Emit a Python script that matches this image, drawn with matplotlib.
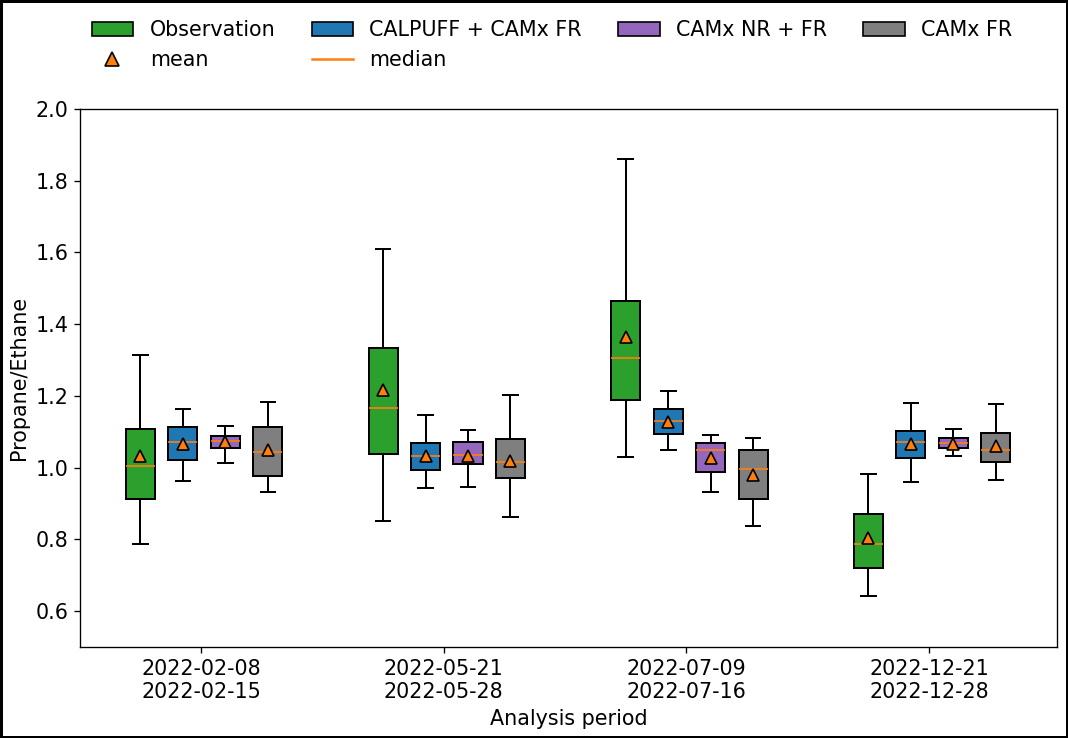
import matplotlib
matplotlib.use("Agg")
import matplotlib.pyplot as plt
import numpy as np
from matplotlib.patches import Patch
from matplotlib.lines import Line2D

plt.rcParams['font.size'] = 12.4

periods = ["2022-02-08\n2022-02-15", "2022-05-21\n2022-05-28",
           "2022-07-09\n2022-07-16", "2022-12-21\n2022-12-28"]
series = ["Observation", "CALPUFF + CAMx FR", "CAMx NR + FR", "CAMx FR"]
colors = ["tab:green", "tab:blue", "tab:purple", "tab:gray"]

# box statistics per series, one value per period
obs_lo = [0.788, 0.852, 1.030, 0.643]
obs_q1 = [0.914, 1.038, 1.189, 0.721]
obs_med = [1.006, 1.166, 1.306, 0.788]
obs_q3 = [1.108, 1.335, 1.466, 0.872]
obs_hi = [1.315, 1.611, 1.861, 0.983]
obs_mean = [1.032, 1.217, 1.364, 0.803]

cal_lo = [0.963, 0.942, 1.048, 0.961]
cal_q1 = [1.022, 0.994, 1.093, 1.026]
cal_med = [1.071, 1.033, 1.130, 1.071]
cal_q3 = [1.112, 1.069, 1.164, 1.103]
cal_hi = [1.164, 1.148, 1.213, 1.179]
cal_mean = [1.067, 1.032, 1.127, 1.067]

nr_lo = [1.014, 0.945, 0.933, 1.033]
nr_q1 = [1.056, 1.009, 0.988, 1.056]
nr_med = [1.074, 1.035, 1.050, 1.069]
nr_q3 = [1.089, 1.072, 1.068, 1.083]
nr_hi = [1.117, 1.106, 1.090, 1.109]
nr_mean = [1.071, 1.033, 1.028, 1.067]

fr_lo = [0.933, 0.863, 0.838, 0.967]
fr_q1 = [0.978, 0.970, 0.912, 1.015]
fr_med = [1.044, 1.015, 0.995, 1.049]
fr_q3 = [1.113, 1.079, 1.049, 1.096]
fr_hi = [1.184, 1.204, 1.083, 1.177]
fr_mean = [1.050, 1.018, 0.980, 1.060]

all_stats = [
    (obs_lo, obs_q1, obs_med, obs_q3, obs_hi, obs_mean),
    (cal_lo, cal_q1, cal_med, cal_q3, cal_hi, cal_mean),
    (nr_lo, nr_q1, nr_med, nr_q3, nr_hi, nr_mean),
    (fr_lo, fr_q1, fr_med, fr_q3, fr_hi, fr_mean),
]

fig = plt.figure(figsize=(8.9, 6.15), dpi=120)
fig.patch.set_edgecolor('black')
fig.patch.set_linewidth(2)
ax = fig.add_axes([0.0749, 0.1233, 0.9148, 0.729])

x = np.arange(len(periods))
offsets = [-0.25, -0.075, 0.10, 0.275]
width = 0.12
lw = 1.2

for j, (lo, q1, med, q3, hi, mn) in enumerate(all_stats):
    stats = []
    for i in range(len(periods)):
        stats.append({'whislo': lo[i], 'q1': q1[i], 'med': med[i], 'q3': q3[i],
                      'whishi': hi[i], 'mean': mn[i], 'fliers': []})
    ax.bxp(stats, positions=x + offsets[j], widths=width, patch_artist=True,
           showmeans=True, manage_ticks=False,
           boxprops=dict(facecolor=colors[j], edgecolor='black', linewidth=lw),
           whiskerprops=dict(linewidth=lw), capprops=dict(linewidth=lw),
           medianprops=dict(color='tab:orange'),
           meanprops=dict(marker='^', markerfacecolor='tab:orange',
                          markeredgecolor='black', markersize=7.5))

ax.set_xticks(x)
ax.set_xticklabels(periods)
ax.set_xlim(-0.499, 3.527)
ax.set_ylim(0.5, 2.0)
ax.set_xlabel("Analysis period")
ax.set_ylabel("Propane/Ethane")

handles = [Patch(facecolor=colors[0], edgecolor='black', label=series[0]),
           Line2D([], [], marker='^', color='none', markerfacecolor='tab:orange',
                  markeredgecolor='black', markersize=8, label='mean'),
           Patch(facecolor=colors[1], edgecolor='black', label=series[1]),
           Line2D([], [], color='tab:orange', label='median'),
           Patch(facecolor=colors[2], edgecolor='black', label=series[2]),
           Patch(facecolor=colors[3], edgecolor='black', label=series[3])]
fig.legend(handles=handles, ncol=4, loc='upper center', columnspacing=1.75,
           bbox_to_anchor=(0.517, 0.998), frameon=False)

fig.savefig("out.png", dpi=120, edgecolor=fig.get_edgecolor())
